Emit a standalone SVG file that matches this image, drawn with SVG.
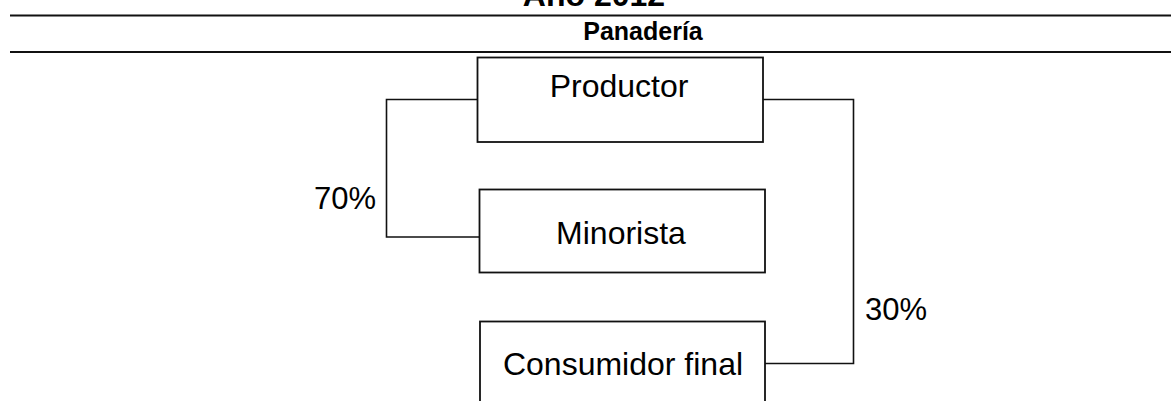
<svg xmlns="http://www.w3.org/2000/svg" width="1171" height="401" viewBox="0 0 1171 401">
<style>
text{font-family:"Liberation Sans",Arial,sans-serif;fill:#000}
.lbl{font-size:32px;text-anchor:middle}
.pct{font-size:31px}
.box{fill:#fff;stroke:#111;stroke-width:1.8}
.rule{stroke:#111;stroke-width:2.2}
.conn{fill:none;stroke:#111;stroke-width:1.6}
</style>
<rect width="1171" height="401" fill="#fff"/>
<g id="header">
<text x="594" y="6" font-size="32" font-weight="bold" text-anchor="middle">Año 2012</text>
<line class="rule" x1="10" y1="15.5" x2="1171" y2="15.5"/>
<text x="643" y="40" font-size="25" font-weight="bold" text-anchor="middle">Panadería</text>
<line class="rule" x1="10" y1="52" x2="1171" y2="52"/>
</g>
<g id="connectors">
<polyline class="conn" points="477,99.5 386.5,99.5 386.5,237 479,237"/>
<polyline class="conn" points="763,99.5 853.5,99.5 853.5,363.5 765,363.5"/>
<text class="pct" x="376" y="209" text-anchor="end">70%</text>
<text class="pct" x="865" y="320">30%</text>
</g>
<g id="productor">
<rect class="box" x="477.5" y="57.5" width="285.5" height="84.5"/>
<text class="lbl" x="619" y="97">Productor</text>
</g>
<g id="minorista">
<rect class="box" x="479.5" y="189.5" width="285.5" height="83"/>
<text class="lbl" x="621" y="243.5">Minorista</text>
</g>
<g id="consumidor">
<rect class="box" x="480" y="321.5" width="285" height="90"/>
<text class="lbl" x="623" y="375">Consumidor final</text>
</g>
</svg>
